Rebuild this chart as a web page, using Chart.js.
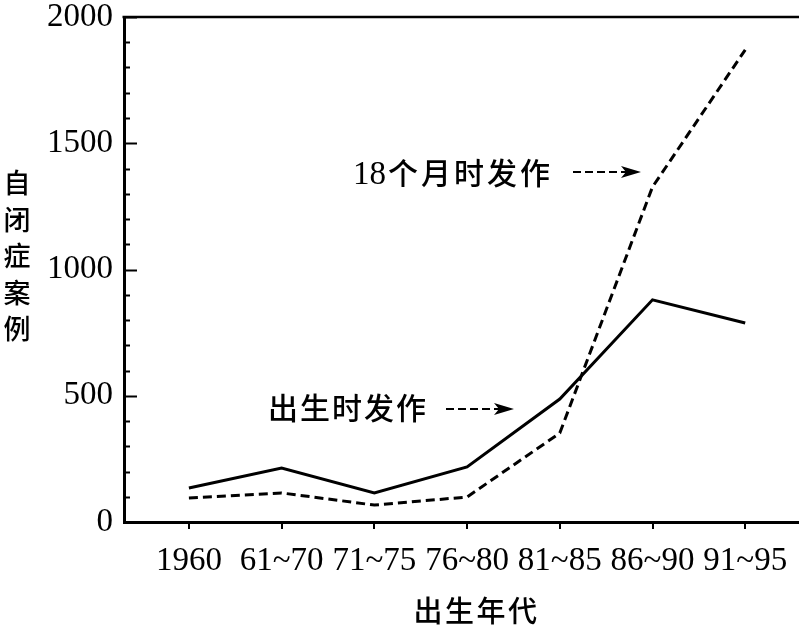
<!DOCTYPE html>
<html>
<head>
<meta charset="utf-8">
<script src="https://cdn.jsdelivr.net/npm/chart.js@4"></script>
<style>
  html, body { margin: 0; padding: 0; background: #fff; }
  #wrap { width: 799px; height: 635px; }
</style>
</head>
<body>
<div id="wrap"><canvas id="chart" width="799" height="635"></canvas></div>
<script>
const categories = ['1960', '61~70', '71~75', '76~80', '81~85', '86~90', '91~95'];
const atBirth = [135, 214, 115, 218, 487, 880, 788];
const at18Months = [95, 115, 67, 99, 352, 1327, 1870];
const yTicks = [0, 500, 1000, 1500, 2000];
const yMinorStep = 100;

const numFont = { family: '"Liberation Serif", "Times New Roman", serif', size: 33 };
const cjkFont = '"Noto Sans CJK SC", sans-serif';

// inward y ticks, top frame line, titles and the two arrow notes
const decorations = {
    id: 'decorations',
    afterDraw(chart) {
        const ctx = chart.ctx;
        const area = chart.chartArea;
        const y = chart.scales.y;
        ctx.save();
        ctx.strokeStyle = '#000';
        ctx.fillStyle = '#000';

        ctx.lineWidth = 2;
        for (let v = 0; v <= 2000; v += yMinorStep) {
            const py = Math.round(y.getPixelForValue(v)) + 0.5;
            const len = v % 500 === 0 ? 13 : 6;
            ctx.beginPath();
            ctx.moveTo(area.left, py);
            ctx.lineTo(area.left + len, py);
            ctx.stroke();
        }

        ctx.lineWidth = 2.5;
        ctx.beginPath();
        ctx.moveTo(area.left - 1.5, area.top);
        ctx.lineTo(area.right, area.top);
        ctx.stroke();

        ctx.textAlign = 'center';
        ctx.textBaseline = 'middle';
        ctx.font = '500 27px ' + cjkFont;
        ['自', '闭', '症', '案', '例'].forEach((c, i) => {
            ctx.fillText(c, 17, 183 + i * 36.5);
        });

        ctx.font = '500 29px ' + cjkFont;
        ['出', '生', '年', '代'].forEach((c, i) => {
            ctx.fillText(c, 428 + i * 31.5, 611);
        });

        ctx.font = '33px ' + numFont.family;
        ctx.textAlign = 'left';
        ctx.fillText('18', 353, 175);
        ctx.textAlign = 'center';
        ctx.font = '500 30px ' + cjkFont;
        ['个', '月', '时', '发', '作'].forEach((c, i) => {
            ctx.fillText(c, 403 + i * 33, 173);
        });
        ['出', '生', '时', '发', '作'].forEach((c, i) => {
            ctx.fillText(c, 283 + i * 32, 408);
        });

        drawArrow(ctx, 573, 641, 172);
        drawArrow(ctx, 446, 514, 409);
        ctx.restore();
    }
};

function drawArrow(ctx, x0, x1, yy) {
    ctx.lineWidth = 2;
    ctx.setLineDash([8, 4]);
    ctx.beginPath();
    ctx.moveTo(x0, yy);
    ctx.lineTo(x1 - 10, yy);
    ctx.stroke();
    ctx.setLineDash([]);
    ctx.beginPath();
    ctx.moveTo(x1, yy);
    ctx.lineTo(x1 - 20, yy - 6);
    ctx.lineTo(x1 - 15, yy);
    ctx.lineTo(x1 - 20, yy + 6);
    ctx.closePath();
    ctx.fill();
}

new Chart(document.getElementById('chart'), {
    type: 'line',
    data: {
        datasets: [
            {
                label: '出生时发作',
                data: atBirth.map((v, i) => ({ x: i, y: v })),
                borderColor: '#000',
                borderWidth: 3,
                pointRadius: 0,
                tension: 0,
                fill: false
            },
            {
                label: '18个月时发作',
                data: at18Months.map((v, i) => ({ x: i, y: v })),
                borderColor: '#000',
                borderWidth: 3,
                borderDash: [9, 5],
                pointRadius: 0,
                tension: 0,
                fill: false
            }
        ]
    },
    options: {
        responsive: false,
        animation: false,
        layout: { padding: { top: 17, left: 0, right: 0, bottom: 0 } },
        plugins: { legend: { display: false }, tooltip: { enabled: false } },
        scales: {
            x: {
                type: 'linear',
                min: -0.7,
                max: 6.58,
                afterBuildTicks: s => { s.ticks = categories.map((c, i) => ({ value: i })); },
                afterFit: s => { s.height = 113; s.paddingLeft = 0; s.paddingRight = 0; },
                ticks: {
                    callback: v => categories[v],
                    font: numFont,
                    color: '#000',
                    padding: 13,
                    maxRotation: 0,
                    autoSkip: false
                },
                grid: { drawOnChartArea: false, tickLength: 7, color: '#000', lineWidth: 2 },
                border: { color: '#000', width: 3 }
            },
            y: {
                min: 0,
                max: 2000,
                afterBuildTicks: s => { s.ticks = yTicks.map(v => ({ value: v })); },
                afterFit: s => { s.width = 124; s.paddingTop = 0; s.paddingBottom = 0; },
                ticks: { font: numFont, color: '#000', padding: 11, callback: v => String(v) },
                grid: { drawOnChartArea: false, drawTicks: false },
                border: { color: '#000', width: 3 }
            }
        }
    },
    plugins: [decorations]
});
</script>
</body>
</html>
